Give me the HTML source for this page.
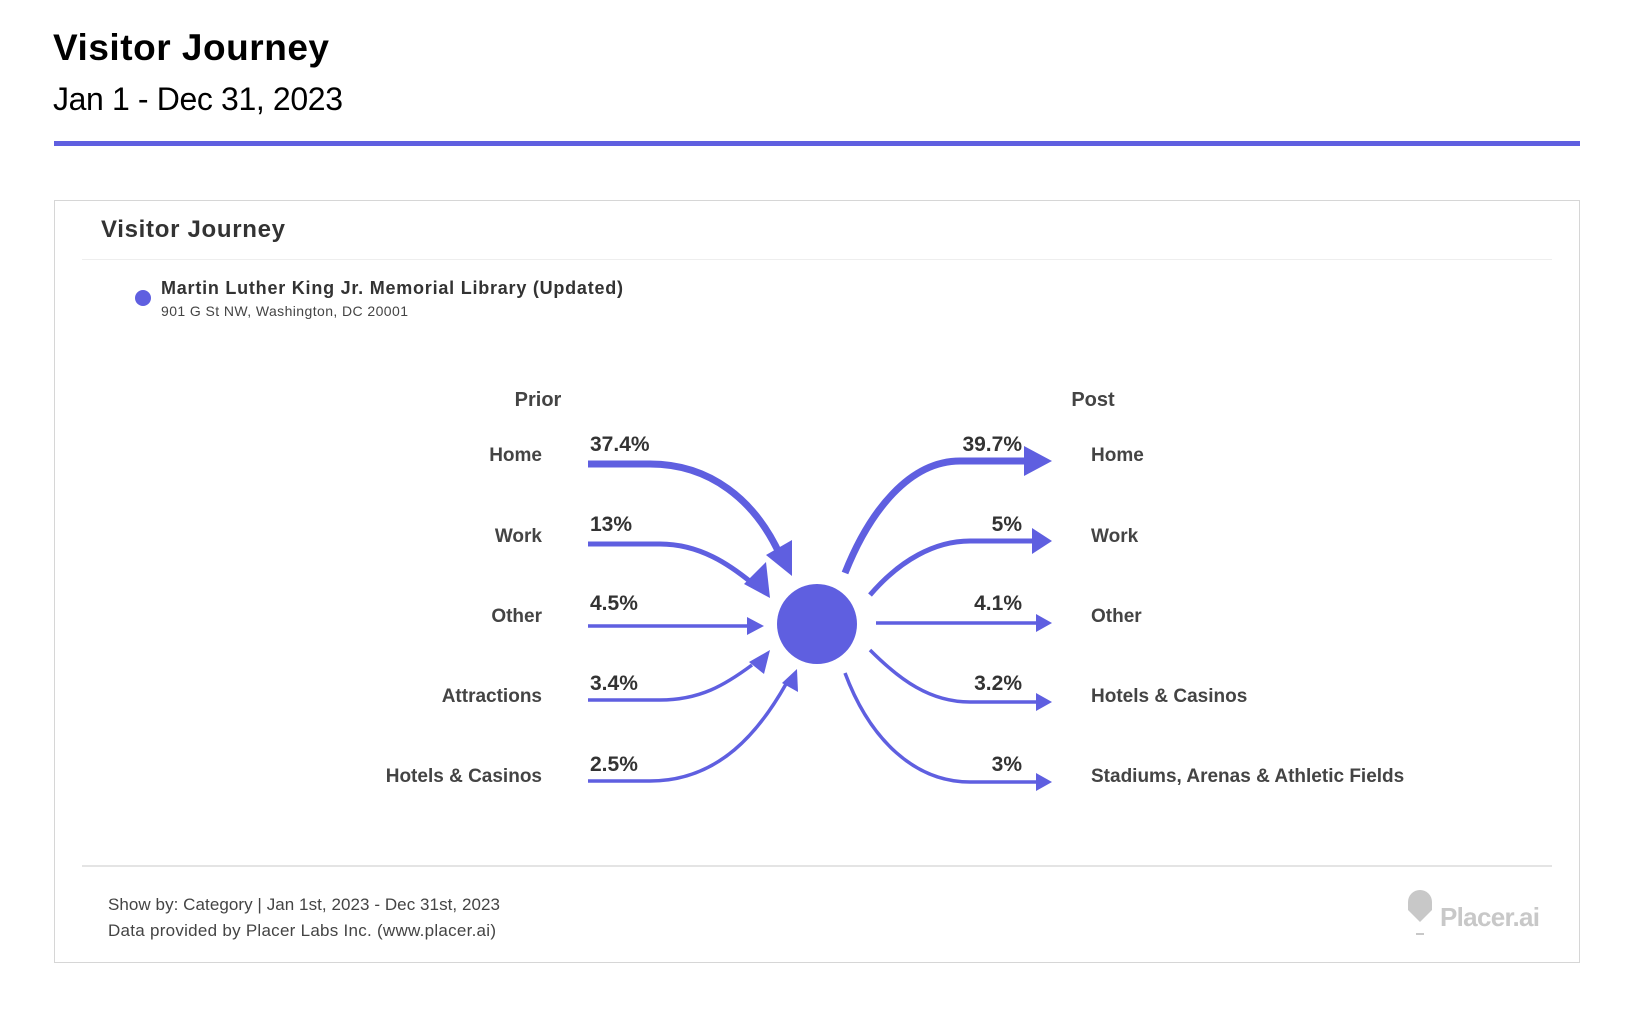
<!DOCTYPE html>
<html><head><meta charset="utf-8"><style>
html,body{margin:0;padding:0;background:#fff;}
svg{display:block;font-family:"Liberation Sans",Arial,sans-serif;}
</style></head><body>
<svg width="1632" height="1027" viewBox="0 0 1632 1027" xmlns="http://www.w3.org/2000/svg">
<text x="53" y="60" font-size="37" font-weight="bold" fill="#000" textLength="276">Visitor Journey</text>
<text x="53" y="110" font-size="32" fill="#000" textLength="290">Jan 1 - Dec 31, 2023</text>
<rect x="54" y="141" width="1526" height="5" fill="#5f5fe0"/>
<rect x="54.5" y="200.5" width="1525" height="762" fill="#fff" stroke="#d6d6d6"/>
<text x="101" y="237" font-size="24" font-weight="bold" fill="#333" textLength="184">Visitor Journey</text>
<rect x="82" y="259" width="1470" height="1" fill="#eee"/>
<circle cx="143" cy="298" r="8" fill="#5f5fe0"/>
<text x="161" y="294" font-size="18" font-weight="bold" fill="#333" textLength="462">Martin Luther King Jr. Memorial Library (Updated)</text>
<text x="161" y="316" font-size="14" fill="#444" textLength="247">901 G St NW, Washington, DC 20001</text>
<g font-size="20" font-weight="bold" fill="#444">
<text x="538" y="406" text-anchor="middle">Prior</text>
<text x="1093" y="406" text-anchor="middle">Post</text>
</g>
<g font-size="19" font-weight="bold" fill="#444" text-anchor="end">
<text x="542" y="461">Home</text>
<text x="542" y="542">Work</text>
<text x="542" y="622">Other</text>
<text x="542" y="702">Attractions</text>
<text x="542" y="782">Hotels &amp; Casinos</text>
</g>
<g font-size="19" font-weight="bold" fill="#444">
<text x="1091" y="461">Home</text>
<text x="1091" y="542">Work</text>
<text x="1091" y="622">Other</text>
<text x="1091" y="702">Hotels &amp; Casinos</text>
<text x="1091" y="782">Stadiums, Arenas &amp; Athletic Fields</text>
</g>
<g font-size="21" font-weight="bold" fill="#333">
<text x="590" y="451">37.4%</text>
<text x="590" y="531">13%</text>
<text x="590" y="610">4.5%</text>
<text x="590" y="690">3.4%</text>
<text x="590" y="771">2.5%</text>
<g text-anchor="end">
<text x="1022" y="451">39.7%</text>
<text x="1022" y="531">5%</text>
<text x="1022" y="610">4.1%</text>
<text x="1022" y="690">3.2%</text>
<text x="1022" y="771">3%</text>
</g>
</g>
<circle cx="817" cy="624" r="40" fill="#5f5fe0"/>
<g fill="none" stroke="#5f5fe0">
<path d="M588 464 H650 C710 464 755 500 780 555" stroke-width="7"/>
<path d="M588 544 H660 C700 544 730 565 752 583" stroke-width="5"/>
<path d="M588 626 H750" stroke-width="3.5"/>
<path d="M588 700 H660 C700 700 725 685 752 665" stroke-width="3.5"/>
<path d="M588 781 H650 C720 781 760 730 786 684" stroke-width="3.5"/>
<path d="M845 573 C870 510 910 461 960 461 H1025" stroke-width="7"/>
<path d="M870 595 C900 560 935 541 970 541 H1035" stroke-width="5"/>
<path d="M876 623 H1040" stroke-width="3.5"/>
<path d="M870 650 C900 680 930 702 970 702 H1040" stroke-width="3.5"/>
<path d="M845 673 C870 740 915 782 970 782 H1040" stroke-width="3.5"/>
</g>
<g fill="#5f5fe0">
<polygon points="792,576 766,555 792,540"/>
<polygon points="770,598 744,584 766,562"/>
<polygon points="764,626 747,617 747,635"/>
<polygon points="770,650 749,662 764,674"/>
<polygon points="797,669 782,683 798,692"/>
<polygon points="1052,461 1024,446 1024,476"/>
<polygon points="1052,541 1032,528 1032,554"/>
<polygon points="1052,623 1036,614 1036,632"/>
<polygon points="1052,702 1036,693 1036,711"/>
<polygon points="1052,782 1036,773 1036,791"/>
</g>
<rect x="82" y="865" width="1470" height="2" fill="#e4e4e4"/>
<g font-size="17" fill="#444">
<text x="108" y="910" textLength="392">Show by: Category  |  Jan 1st, 2023 - Dec 31st, 2023</text>
<text x="108" y="936" textLength="388">Data provided by Placer Labs Inc. (www.placer.ai)</text>
</g>
<g fill="#c8c8c8">
<path d="M1408 902 a12 12 0 0 1 24 0 v8 l-12 12 l-12 -12 z"/>
<rect x="1416" y="933" width="8" height="2"/>
</g>
<text x="1440" y="926" font-size="26" font-weight="bold" fill="#c8c8c8" textLength="100">Placer.ai</text>
</svg>
</body></html>
